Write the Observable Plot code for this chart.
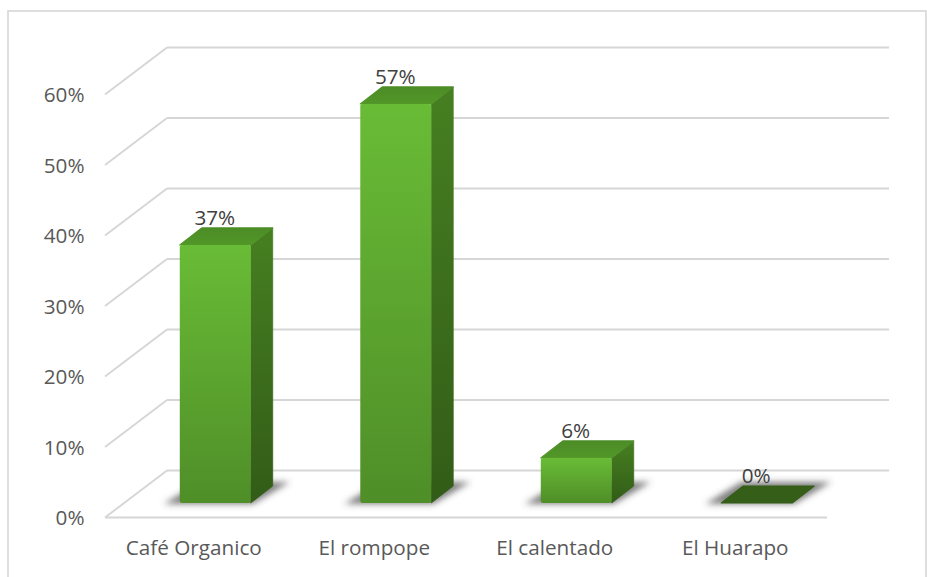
<!DOCTYPE html>
<html>
<head>
<meta charset="utf-8">
<script src="https://cdn.jsdelivr.net/npm/d3@7"></script>
<script src="https://cdn.jsdelivr.net/npm/@observablehq/plot@0.6"></script>
<style>
html,body{margin:0;padding:0;background:#fff}
svg{display:block}
</style>
</head>
<body>
<div id="chart"></div>
<script>
const categories = ["Café Organico", "El rompope", "El calentado", "El Huarapo"];
const shares = [0.366, 0.566, 0.064, 0];
const shownLabels = ["37%", "57%", "6%", "0%"];
const yTicks = [0, 0.1, 0.2, 0.3, 0.4, 0.5, 0.6];

const rows = categories.map((name, i) => ({name, share: shares[i], label: shownLabels[i]}));

const FONT = "'Open Sans', Lato, sans-serif";
const GRID = "#d6d6d6";
const wall = {dx: 62, dy: -47};
const barPlane = {dx: 20, dy: -14};
const depth = {dx: 22, dy: -17};

function gradient(defs, id, top, bottom) {
  const g = defs.append("linearGradient").attr("id", id)
    .attr("x1", 0).attr("y1", 0).attr("x2", 0).attr("y2", 1);
  g.append("stop").attr("offset", "0%").attr("stop-color", top);
  g.append("stop").attr("offset", "100%").attr("stop-color", bottom);
}

const defsMark = () => {
  const svg = d3.create("svg:g");
  const defs = svg.append("defs");
  gradient(defs, "front", "#69bc36", "#4f8e28");
  gradient(defs, "side", "#467f21", "#325c17");
  gradient(defs, "top", "#4c8c26", "#529728");
  defs.append("filter").attr("id", "soft")
    .attr("x", "-20%").attr("y", "-40%").attr("width", "140%").attr("height", "180%")
    .append("feGaussianBlur").attr("stdDeviation", 3);
  return svg.node();
};

const frameMark = (index, scales, values, dimensions) =>
  d3.create("svg:rect")
    .attr("x", 8).attr("y", 11)
    .attr("width", dimensions.width - 9).attr("height", dimensions.height)
    .attr("fill", "none").attr("stroke", GRID).attr("stroke-width", 1.6)
    .node();

// side-wall gridlines, joining each front tick to the back wall
function sideLines(index, scales, values, dimensions, context, next) {
  const g = next(index, scales, values, dimensions, context);
  const left = dimensions.marginLeft;
  for (const i of index) {
    const y = values.y[i];
    d3.select(g).append("line")
      .attr("x1", left).attr("y1", y)
      .attr("x2", left + wall.dx).attr("y2", y + wall.dy)
      .attr("stroke", GRID).attr("stroke-width", 1.9);
  }
  return g;
}

// turns the flat bars from Plot into prisms: shadow, side and top faces
function prism(index, scales, values, dimensions, context, next) {
  const g = d3.select(next(index, scales, values, dimensions, context));
  const w = scales.x.bandwidth();
  const poly = (pts) => pts.map((p) => p.join(",")).join(" ");
  const first = g.node().firstChild;
  for (const i of index) {
    const x0 = values.x[i], x1 = x0 + w;
    const yTop = scales.y(rows[i].share), yBase = scales.y(0);
    g.insert("polygon", () => first)
      .attr("points", poly([[x0 - 16, yBase + 1], [x1 + 2, yBase + 1], [x1 + 39, yBase - 21], [x0 + 20, yBase - 21]]))
      .attr("fill", "#4a4a4a").attr("fill-opacity", 0.7).attr("filter", "url(#soft)");
    if (yBase - yTop > 0.5) {
      g.append("polygon")
        .attr("points", poly([[x1, yTop], [x1 + depth.dx, yTop + depth.dy], [x1 + depth.dx, yBase + depth.dy], [x1, yBase]]))
        .attr("fill", "url(#side)").attr("stroke", "url(#side)").attr("stroke-width", 0.8).attr("stroke-linejoin", "round");
    }
    const fillTop = rows[i].share === 0 ? "#355e18" : "url(#top)";
    g.append("polygon")
      .attr("points", poly([[x0, yTop], [x0 + depth.dx, yTop + depth.dy], [x1 + depth.dx, yTop + depth.dy], [x1, yTop]]))
      .attr("fill", fillTop).attr("stroke", fillTop).attr("stroke-width", 1.2).attr("stroke-linejoin", "round");
  }
  // keep the front faces above the side and top faces
  g.selectAll("rect").raise();
  return g.node();
}

const chart = Plot.plot({
  width: 927,
  height: 577,
  marginLeft: 105,
  marginRight: 100,
  marginTop: 94,
  marginBottom: 60,
  style: {background: "#fff", fontFamily: FONT},
  x: {type: "band", domain: categories, range: [105, 827], paddingInner: 0.607, paddingOuter: 0.3035, round: false, label: null},
  y: {domain: [0, 0.6], range: [517, 94], label: null},
  marks: [
    defsMark,
    frameMark,
    Plot.ruleY(yTicks, {y: (d) => d, stroke: GRID, strokeWidth: 1.9, ...wall}),
    Plot.ruleY(yTicks, {y: (d) => d, stroke: "none", render: sideLines}),
    Plot.ruleY([0], {stroke: GRID, strokeWidth: 1.9}),
    Plot.barY(rows, {x: "name", y: "share", fill: "url(#front)", rx: 2.5, ...barPlane, render: prism}),
    Plot.text(rows, {x: "name", y: "share", text: "label", dx: 19, dy: -41, fontSize: 20.7, fill: "#404040"}),
    Plot.axisY({ticks: yTicks, tickFormat: d3.format(".0%"), tickSize: 0, tickPadding: 21, fontSize: 20.7, dy: 1, color: "#595959", label: null}),
    Plot.axisX({tickSize: 0, tickPadding: 23, fontSize: 20.7, dx: -2, color: "#595959", label: null})
  ]
});
document.getElementById("chart").appendChild(chart);
</script>
</body>
</html>
